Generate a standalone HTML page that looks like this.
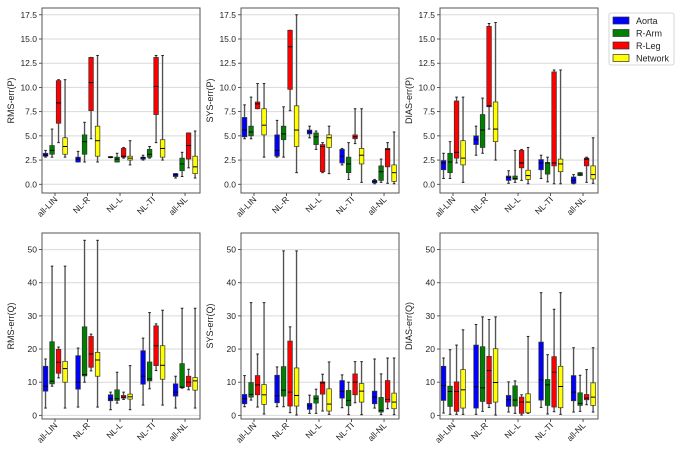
<!DOCTYPE html>
<html><head><meta charset="utf-8"><style>
body{margin:0;background:#fff;}
svg{display:block;font-family:"Liberation Sans","DejaVu Sans",sans-serif;}
</style></head><body>
<svg id="chart" width="684" height="456" viewBox="0 0 684 456"></svg>
<script>
const categories = ["all-LIN","NL-R","NL-L","NL-TI","all-NL"];
const seriesNames = ["Aorta","R-Arm","R-Leg","Network"];
const seriesColors = ["#0000ff","#008000","#ff0000","#ffff00"];
// each entry: [whiskerLow, q1, median, q3, whiskerHigh]
const rmsP_aorta  = [[2.8,2.9,3.0,3.2,3.5],[2.3,2.3,2.6,2.8,3.4],[2.75,2.75,2.8,2.85,2.85],[2.5,2.6,2.75,2.8,3.0],[0.65,0.8,1.0,1.1,1.1]];
const rmsP_arm    = [[2.8,3.1,3.5,4.0,5.7],[2.3,3.1,4.4,5.1,6.4],[2.3,2.3,2.6,2.8,3.2],[2.7,2.8,3.1,3.6,3.9],[0.8,1.4,2.1,2.7,3.3]];
const rmsP_leg    = [[4.3,6.3,8.4,10.7,10.8],[4.7,7.6,10.5,13.1,13.1],[2.7,2.8,2.9,3.7,3.8],[4.3,7.2,10.1,13.1,13.3],[1.7,2.6,4.0,5.3,5.3]];
const rmsP_net    = [[2.8,3.1,3.9,4.8,10.8],[2.3,2.9,4.5,6.0,13.3],[2.0,2.5,2.7,2.9,4.5],[2.5,2.8,3.7,4.6,13.3],[0.65,1.1,1.8,2.9,5.5]];
const sysP_aorta  = [[4.7,4.9,5.6,6.9,8.2],[2.8,2.9,3.5,5.1,6.6],[4.8,5.2,5.4,5.6,6.0],[2.0,2.2,2.9,3.6,3.7],[0.05,0.15,0.3,0.4,0.5]];
const sysP_arm    = [[4.7,5.0,5.4,6.0,9.0],[2.8,4.6,5.2,6.0,8.0],[3.6,4.1,4.9,5.3,5.5],[0.5,1.2,2.1,2.8,4.3],[0.2,0.4,1.3,1.9,2.6]];
const sysP_leg    = [[7.8,7.8,8.3,8.5,10.4],[7.6,9.8,14.2,15.9,15.9],[1.2,1.3,3.9,4.1,4.3],[4.2,4.7,4.9,5.1,7.8],[0.1,1.8,3.6,3.7,4.3]];
const sysP_net    = [[2.8,5.1,6.1,7.8,10.4],[1.2,3.9,5.6,8.1,17.5],[1.1,3.8,4.8,5.1,6.0],[0.2,2.1,3.0,3.7,7.8],[0.05,0.3,1.2,2.0,5.4]];
const diasP_aorta = [[0.6,1.5,2.2,2.45,3.2],[3.0,4.1,4.6,5.0,6.0],[0.1,0.4,0.7,0.85,1.4],[0.6,1.5,2.2,2.55,3.0],[0.05,0.1,0.4,0.75,1.0]];
const diasP_arm   = [[0.6,1.2,2.3,3.2,4.4],[3.2,3.8,5.6,7.2,8.9],[0.2,0.5,0.6,0.85,3.5],[0.25,1.05,2.2,2.25,2.8],[0.9,0.9,1.05,1.2,1.2]];
const diasP_leg   = [[2.2,2.7,3.3,8.6,9.0],[5.7,8.0,8.1,16.3,16.6],[0.4,1.7,2.2,3.5,3.6],[0.05,1.9,2.2,11.6,11.8],[0.2,1.9,2.6,2.7,2.8]];
const diasP_net   = [[0.2,2.0,2.7,4.5,9.0],[2.5,4.4,5.7,8.5,16.7],[0.05,0.5,0.9,1.45,3.8],[0.05,1.3,2.1,2.6,11.8],[0.1,0.55,1.0,1.9,4.8]];
const rmsQ_aorta  = [[2.2,7.3,8.8,14.8,17],[2.5,7.9,10,18,20.3],[1.7,4.4,5,6.2,7],[3.1,9.4,11.8,19.5,23.3],[2.2,5.8,7,9.5,11.8]];
const rmsQ_arm    = [[8.8,9.5,10.3,22.2,45],[10,11.9,12.3,26.7,52.8],[3.7,4.5,5,7.7,13],[8,10.4,11,16.1,31],[8.2,8.4,8.5,15.6,32.3]];
const rmsQ_leg    = [[11.3,12.7,16,19.9,20.6],[13.4,14.5,18.5,23.8,24.5],[4.8,5.2,5.5,6,7],[13.5,15,21,27,27.6],[7.7,8.7,10,11.8,13.9]];
const rmsQ_net    = [[2.2,10,14.1,16.3,45],[2.5,11.8,16.7,19,52.8],[1.7,4.9,5.6,6.4,15],[3.1,10.9,15.1,21,31.7],[2.2,7.6,10.4,11.4,32.3]];
const sysQ_aorta  = [[2.6,3.5,5,6.3,12],[2.6,3.8,5.9,12.1,14.6],[0.6,1.8,2.9,3.6,6.1],[2.3,5.2,7.2,10.5,12.2],[2.2,3.5,5.5,7.3,17]];
const sysQ_arm    = [[4.6,5.5,6.3,9.9,34],[2.6,5.8,7.6,14.7,49.6],[0.6,3.7,5,5.9,7.9],[0.2,2.9,4.5,7.5,10],[0.2,1,1.5,5.4,12.5]];
const sysQ_leg    = [[2.5,6.2,9.2,12,18.5],[0.8,2.8,7,22.4,26.7],[1.3,6.4,9.8,10.1,12.4],[3.8,6.2,10,12.5,16.2],[2,4,4.8,10.5,17.3]];
const sysQ_net    = [[0.4,3.3,6.2,9.3,34],[0.1,2.8,6,14.3,49.6],[0.3,1.3,3.4,8,16.1],[0.2,4,7.3,9.6,16.2],[0.2,2,4,6.7,17.3]];
const diasQ_aorta = [[0.7,4.5,9,14.8,17.3],[0.3,2.2,8.6,21.2,27.4],[1,2.7,4.7,6,10.1],[2.4,4.6,10.7,22.1,37],[1,4.4,7,12,20.4]];
const diasQ_arm   = [[0.3,2.7,7.2,8.8,19.8],[1.2,4.2,8.3,20.7,29.7],[0.6,2.8,4.6,8.9,10.4],[0.4,3,9.2,10.8,18.3],[1.2,3,3.6,6.8,12.1]];
const diasQ_leg   = [[0.3,1.2,7.2,10.1,21.2],[2.4,3.5,13.5,17.8,28.9],[0.1,0.6,4,5.5,6.2],[1.1,2.5,13,17.7,32],[3.2,4.7,5.2,6.3,13.8]];
const diasQ_net   = [[0.3,2.2,7.7,13.8,25.8],[0.1,4,9.9,20.1,29.7],[0.6,0.8,4,6.5,23.8],[0.3,2.3,8.7,14.8,37],[1,3,5.5,9.8,20.4]];
const topTicks = [0,2.5,5,7.5,10,12.5,15,17.5];
const topTickLabels = ["0.0","2.5","5.0","7.5","10.0","12.5","15.0","17.5"];
const botTicks = [0,10,20,30,40,50];
const botTickLabels = ["0","10","20","30","40","50"];

const NS="http://www.w3.org/2000/svg";
const svg=document.getElementById('chart');
function mk(tag,attrs,parent){const e=document.createElementNS(NS,tag);for(const k in attrs)e.setAttribute(k,attrs[k]);(parent||svg).appendChild(e);return e;}

const panels=[
 {name:"rms-err-p",label:"RMS-err(P)",left:42,top:8,bottom:193,ymin:-0.9,ymax:18.2,ticks:topTicks,tl:topTickLabels,data:[rmsP_aorta,rmsP_arm,rmsP_leg,rmsP_net]},
 {name:"sys-err-p",label:"SYS-err(P)",left:241,top:8,bottom:193,ymin:-0.9,ymax:18.2,ticks:topTicks,tl:topTickLabels,data:[sysP_aorta,sysP_arm,sysP_leg,sysP_net]},
 {name:"dias-err-p",label:"DIAS-err(P)",left:440,top:8,bottom:193,ymin:-0.9,ymax:18.2,ticks:topTicks,tl:topTickLabels,data:[diasP_aorta,diasP_arm,diasP_leg,diasP_net]},
 {name:"rms-err-q",label:"RMS-err(Q)",left:42,top:233,bottom:419,ymin:-1.1,ymax:55,ticks:botTicks,tl:botTickLabels,data:[rmsQ_aorta,rmsQ_arm,rmsQ_leg,rmsQ_net]},
 {name:"sys-err-q",label:"SYS-err(Q)",left:241,top:233,bottom:419,ymin:-1.1,ymax:55,ticks:botTicks,tl:botTickLabels,data:[sysQ_aorta,sysQ_arm,sysQ_leg,sysQ_net]},
 {name:"dias-err-q",label:"DIAS-err(Q)",left:440,top:233,bottom:419,ymin:-1.1,ymax:55,ticks:botTicks,tl:botTickLabels,data:[diasQ_aorta,diasQ_arm,diasQ_leg,diasQ_net]}
];
const W=158, XMIN=0.6, XMAX=5.46;

panels.forEach(p=>{
 const g=mk('g',{});
 
 
 const y=v=>p.bottom-(v-p.ymin)/(p.ymax-p.ymin)*(p.bottom-p.top);
 const x=v=>p.left+(v-XMIN)/(XMAX-XMIN)*W;
 // grid
 p.ticks.forEach((t,i)=>{
  const gl=mk('line',{x1:p.left,x2:p.left+W,y1:y(t),y2:y(t),stroke:'#d9d9d9','stroke-width':1},g);
  
  
  mk('line',{x1:p.left-3,x2:p.left,y1:y(t),y2:y(t),stroke:'#333','stroke-width':0.8},g);
  const tx=mk('text',{x:p.left-5,y:y(t)+3,'text-anchor':'end','font-size':8.5,fill:'#222'},g);
  tx.textContent=p.tl[i];
  
  
 });
 // boxes
 p.data.forEach((ser,s)=>{
  ser.forEach((d,c)=>{
   const cx=x(c+1)+(s-1.5)*6.5+0.3;
   const bw=4.6;
   const wl=mk('line',{x1:cx,x2:cx,y1:y(d[0]),y2:y(d[4]),stroke:'#999','stroke-width':1.6},g);
   
   
   mk('line',{x1:cx,x2:cx,y1:y(d[0]),y2:y(d[4]),stroke:'#333','stroke-width':0.7},g);
   mk('line',{x1:cx-1.3,x2:cx+1.3,y1:y(d[0]),y2:y(d[0]),stroke:'#222','stroke-width':1},g);
   mk('line',{x1:cx-1.3,x2:cx+1.3,y1:y(d[4]),y2:y(d[4]),stroke:'#222','stroke-width':1},g);
   const r=mk('rect',{x:cx-bw/2,y:y(d[3]),width:bw,height:Math.max(0.8,y(d[1])-y(d[3])),fill:seriesColors[s],stroke:'#333','stroke-width':0.7},g);
   
   
   mk('line',{x1:cx-bw/2,x2:cx+bw/2,y1:y(d[2]),y2:y(d[2]),stroke:'#000','stroke-width':1},g);
  });
 });
 // frame
 const fr=mk('rect',{x:p.left,y:p.top,width:W,height:p.bottom-p.top,fill:'none',stroke:'#555','stroke-width':1},g);
 
 
 // x ticks
 categories.forEach((cat,c)=>{
  const cx=x(c+1);
  mk('line',{x1:cx,x2:cx,y1:p.bottom,y2:p.bottom+3,stroke:'#333','stroke-width':0.8},g);
  const t=mk('text',{x:cx+3,y:p.bottom+7,'text-anchor':'end','font-size':8.5,fill:'#222',transform:`rotate(-45 ${cx+3} ${p.bottom+7})`},g);
  t.textContent=cat;
  
  
 });
 const ly=(p.top+p.bottom)/2, lx=p.left-28;
 const yl=mk('text',{x:lx,y:ly,'text-anchor':'middle','font-size':9,fill:'#222',transform:`rotate(-90 ${lx} ${ly})`},g);
 yl.textContent=p.label;
 
 
});

// legend
const lg=mk('g',{});


mk('rect',{x:609,y:13,width:65,height:52,fill:'#fff',stroke:'#ccc','stroke-width':0.8,rx:2},lg);
seriesNames.forEach((n,i)=>{
 const yy=17+i*12.5;
 const sw=mk('rect',{x:613,y:yy,width:16,height:7,fill:seriesColors[i],stroke:'#333','stroke-width':0.7},lg);
 
 
 const t=mk('text',{x:636,y:yy+7,'font-size':9,fill:'#222'},lg);
 t.textContent=n;
 
 
});
</script>
</body></html>
